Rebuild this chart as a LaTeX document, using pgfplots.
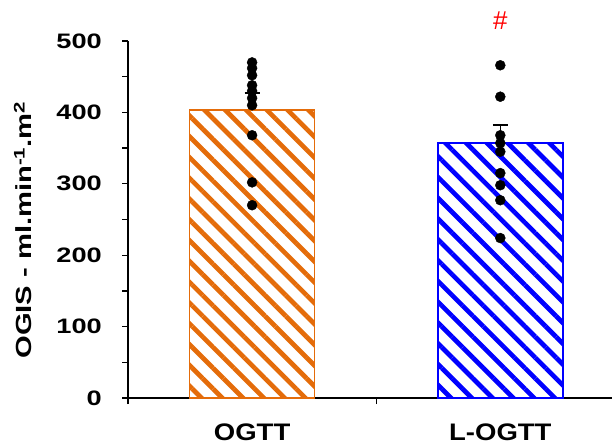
\documentclass[border=0pt]{standalone}
\usepackage{pgfplots}
\pgfplotsset{compat=1.18}
\usepackage{fontspec}
\usetikzlibrary{patterns.meta}
\setmainfont{Liberation Sans}
\newfontfamily\tickfont{Liberation Sans}[FakeStretch=1.3]
\newfontfamily\catfont{Liberation Sans}[FakeStretch=1.15]
\newfontfamily\labfont{Liberation Sans}[FakeStretch=1.33]

\definecolor{ogorange}{RGB}{228,108,10}
\definecolor{ogblue}{RGB}{0,0,255}

\begin{document}
\begin{tikzpicture}
\useasboundingbox (0,0) rectangle (614bp,446bp);
\begin{axis}[
  at={(128bp,48bp)}, anchor=south west,
  scale only axis, width=484bp, height=357bp,
  xmin=-0.5, xmax=1.45, ymin=0, ymax=500,
  axis lines*=left,
  axis line style={line width=1.3bp, black},
  xtick={-0.5,0.5}, xticklabels={,},
  ytick={0,100,...,500}, yticklabels={0,100,200,300,400,500},
  minor y tick num=1,
  tick align=outside,
  major tick length=6bp, minor tick length=6bp,
  every tick/.style={black, line width=1.3bp},
  every minor tick/.style={black, line width=1.3bp},
  yticklabel style={font=\tickfont\bfseries\fontsize{21}{21}\selectfont,
                    anchor=east, inner sep=0pt, xshift=-20bp},
  clip=false,
]
% group means with upward SEM bars
\addplot[ybar, bar width=0.504, draw=ogorange, line width=1.6bp,
  pattern={Lines[angle=-45, distance=14.7bp, line width=4.7bp]},
  pattern color=ogorange,
  error bars/.cd, y dir=plus, y explicit,
  error bar style={black, line width=1.6bp},
  error mark options={black, mark size=7.5bp, line width=1.6bp, rotate=90}]
  coordinates {(0,403) +- (0,24)};
\addplot[ybar, bar width=0.504, draw=ogblue, line width=1.6bp,
  pattern={Lines[angle=-45, distance=14.7bp, line width=4.7bp]},
  pattern color=ogblue,
  error bars/.cd, y dir=plus, y explicit,
  error bar style={black, line width=1.6bp},
  error mark options={black, mark size=7.5bp, line width=1.6bp, rotate=90}]
  coordinates {(1,357) +- (0,25)};
% individual subjects
\addplot[only marks, mark=*, mark size=5bp, black] coordinates {
  (0,470) (0,462) (0,452) (0,438) (0,430) (0,420) (0,410)
  (0,368) (0,302) (0,270)};
\addplot[only marks, mark=*, mark size=5bp, black] coordinates {
  (1,466) (1,422) (1,368) (1,357) (1,345) (1,315) (1,298)
  (1,277) (1,224)};
% category names and significance mark
\node[anchor=base, font=\catfont\bfseries\fontsize{24}{24}\selectfont]
  at (axis cs:0,0) [yshift=-42bp] {OGTT};
\node[anchor=base, font=\catfont\bfseries\fontsize{24}{24}\selectfont]
  at (axis cs:1,0) [yshift=-42bp] {L-OGTT};
\node[red, font=\fontsize{26}{26}\selectfont] at (axis cs:1,529) {\#};
\end{axis}
\node[rotate=90, font=\labfont\bfseries\fontsize{22}{22}\selectfont]
  at (23bp,216bp) {OGIS - ml.min\textsuperscript{-1}.m\textsuperscript{2}};
\end{tikzpicture}
\end{document}
